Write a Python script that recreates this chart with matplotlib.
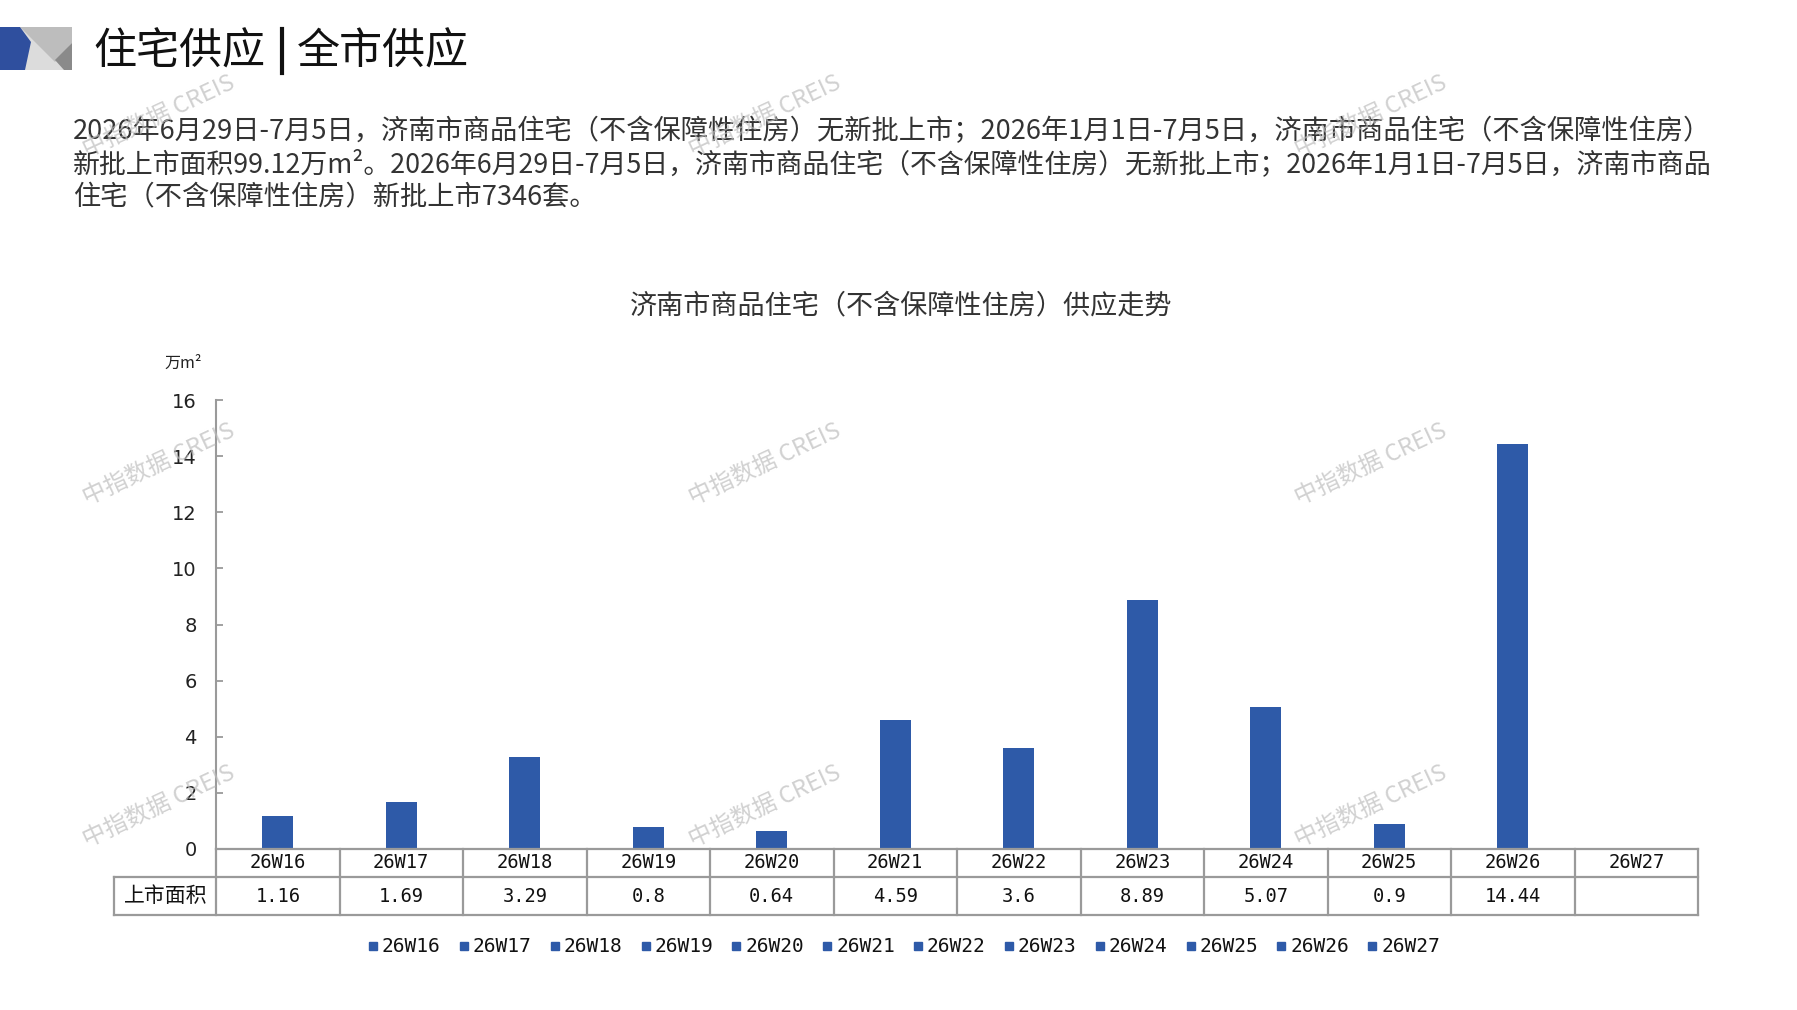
import matplotlib
matplotlib.use("Agg")
import matplotlib.pyplot as plt
import matplotlib.transforms as mtransforms
from matplotlib.lines import Line2D
from matplotlib.patches import Polygon
import numpy as np

# ---------------- data ----------------
weeks = ["26W16", "26W17", "26W18", "26W19", "26W20", "26W21",
         "26W22", "26W23", "26W24", "26W25", "26W26", "26W27"]
area = [1.16, 1.69, 3.29, 0.8, 0.64, 4.59, 3.6, 8.89, 5.07, 0.9, 14.44, None]
row_label = "上市面积"
y_ticks = [0, 2, 4, 6, 8, 10, 12, 14, 16]
unit_label = "万m²"
header_left = "住宅供应"
header_right = "全市供应"
chart_title = "济南市商品住宅（不含保障性住房）供应走势"
para_lines = [
    "2026年6月29日-7月5日，济南市商品住宅（不含保障性住房）无新批上市；2026年1月1日-7月5日，济南市商品住宅（不含保障性住房）",
    "新批上市面积99.12万m²。2026年6月29日-7月5日，济南市商品住宅（不含保障性住房）无新批上市；2026年1月1日-7月5日，济南市商品",
    "住宅（不含保障性住房）新批上市7346套。",
]
watermark = "中指数据 CREIS"

# ---------------- layout helpers ----------------
W, H = 1797, 1010
def fx(px): return px / W
def fy(py): return 1 - py / H

CJK = ["Noto Sans CJK SC", "DejaVu Sans"]
MONO = ["DejaVu Sans Mono", "Noto Sans CJK SC"]
BLUE = "#2E5AA8"
GRID = "#9a9a9a"
TXT = "#111111"

plt.rcParams["font.family"] = CJK
fig = plt.figure(figsize=(W / 100, H / 100), dpi=100)
fig.patch.set_facecolor("white")

# header decoration
deco = [
    ([(20, 27), (72, 27), (72, 70), (20, 70)], "#dcdcdc"),
    ([(20, 27), (72, 27), (72, 43), (55, 62)], "#bdbdbd"),
    ([(72, 43), (55, 60), (64, 70), (72, 70)], "#8a8a8a"),
    ([(0, 27), (20, 27), (31, 42), (25, 70), (0, 70)], "#2F4F9E"),
]
for pts, col in deco:
    fig.add_artist(Polygon([(fx(a), fy(b)) for a, b in pts], closed=True,
                           facecolor=col, edgecolor="none",
                           transform=fig.transFigure))

fig.text(fx(93), fy(53), header_left, fontsize=31, color="#111111",
         ha="left", va="center", family=CJK)
fig.add_artist(Line2D([fx(282), fx(282)], [fy(29), fy(73)], color="#111111",
                      lw=3, transform=fig.transFigure))
fig.text(fx(297), fy(53), header_right, fontsize=31, color="#111111",
         ha="left", va="center", family=CJK)

# paragraph
for txt, yy, fs in zip(para_lines, [131, 164, 197], [19.6, 19.4, 19.6]):
    fig.text(fx(73), fy(yy), txt, fontsize=fs, color="#333333",
             ha="left", va="center", family=CJK)

# chart title
fig.text(fx(901), fy(306), chart_title, fontsize=19.5, color="#333333",
         ha="center", va="center", family=CJK)

# ---------------- axes ----------------
ax = fig.add_axes([fx(216), fy(849), fx(1698) - fx(216), fy(400) - fy(849)])
x = np.arange(len(weeks))
vals = [np.nan if v is None else v for v in area]
ax.bar(x, vals, width=0.25, color=BLUE, zorder=3)
ax.set_xlim(-0.5, len(weeks) - 0.5)
ax.set_ylim(0, 16)
ax.set_yticks(y_ticks)
ax.set_yticklabels([str(t) for t in y_ticks], family=["DejaVu Sans"],
                   fontsize=14, color="#222222")
ax.tick_params(axis="y", direction="in", length=5, width=1.3, color=GRID, pad=14)
ax.set_xticks([])
for s in ["top", "right", "bottom"]:
    ax.spines[s].set_visible(False)
ax.spines["left"].set_color(GRID)
ax.spines["left"].set_linewidth(1.5)
ax.patch.set_alpha(0)

fig.text(fx(183), fy(363), unit_label, fontsize=11.5, color="#222222",
         ha="center", va="center", family=CJK)

# ---------------- data table ----------------
bt = mtransforms.blended_transform_factory(ax.transData, fig.transFigure)
lw = 1.6
y_top, y_mid, y_bot = fy(849), fy(877), fy(915)
n = len(weeks)
fig.add_artist(Line2D([fx(216), fx(1698)], [y_top, y_top], color=GRID, lw=lw,
                      transform=fig.transFigure, zorder=5))
for yy in (y_mid, y_bot):
    fig.add_artist(Line2D([fx(114), fx(1698)], [yy, yy], color=GRID, lw=lw,
                          transform=fig.transFigure, zorder=5))
fig.add_artist(Line2D([fx(114), fx(114)], [y_mid, y_bot], color=GRID, lw=lw,
                      transform=fig.transFigure, zorder=5))
for k in range(n + 1):
    xb = k - 0.5
    ax.add_artist(Line2D([xb, xb], [y_top, y_bot], color=GRID, lw=lw,
                         transform=bt, clip_on=False, zorder=5))
for i, (w, v) in enumerate(zip(weeks, area)):
    ax.text(i, fy(863), w, transform=bt, ha="center", va="center",
            fontsize=13.5, family=MONO, color=TXT)
    if v is not None:
        ax.text(i, fy(896), f"{v:g}", transform=bt, ha="center", va="center",
                fontsize=13.5, family=MONO, color=TXT)
fig.text(fx(166), fy(896), row_label, fontsize=15, color=TXT,
         ha="center", va="center", family=CJK)

# ---------------- legend ----------------
handles = [Line2D([], [], marker="s", linestyle="none", color=BLUE,
                  markersize=6) for _ in weeks]
fig.legend(handles, weeks, loc="center", bbox_to_anchor=(fx(904), fy(947)),
           ncol=len(weeks), frameon=False,
           prop={"family": MONO, "size": 14},
           handlelength=0.5, handletextpad=0.2, columnspacing=0.95,
           labelcolor=TXT)

# ---------------- watermarks ----------------
for wx in (159, 765, 1371):
    for wy in (116, 464, 806):
        fig.text(fx(wx), fy(wy), watermark, fontsize=17, color="#bdbdbd",
                 alpha=0.7, rotation=25, ha="center", va="center",
                 family=CJK, zorder=10)

fig.savefig("out.png", dpi=100, facecolor="white")
